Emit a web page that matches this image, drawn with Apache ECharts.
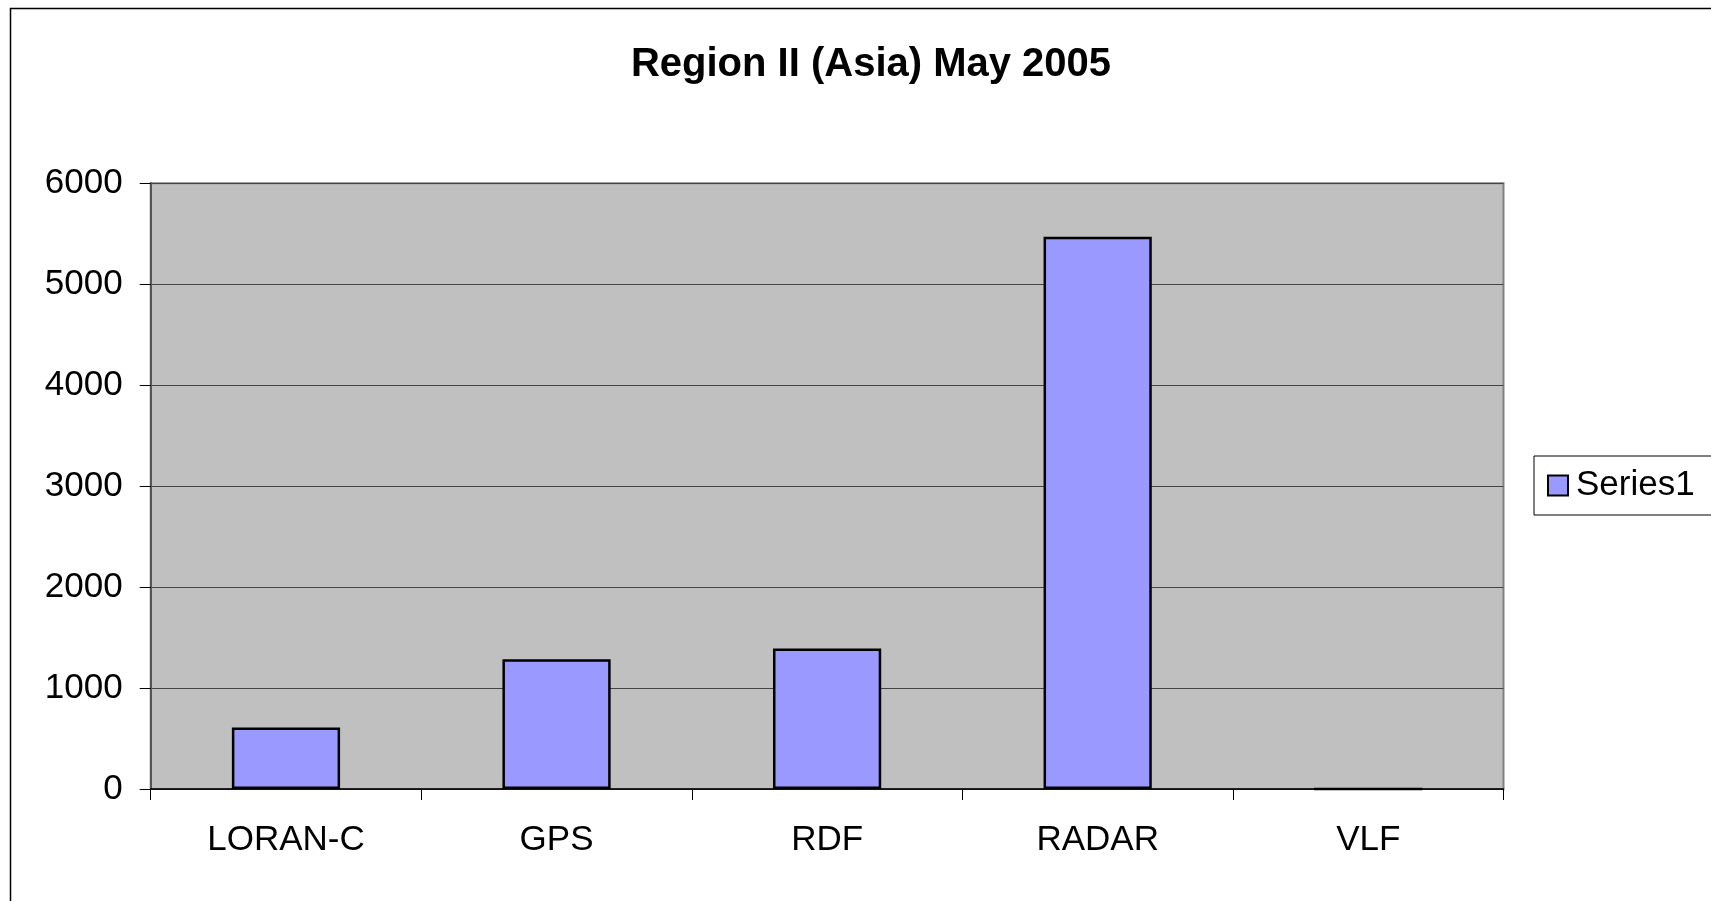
<!DOCTYPE html>
<html>
<head>
<meta charset="utf-8">
<script src="https://cdn.jsdelivr.net/npm/echarts@6/dist/echarts.min.js"></script>
<style>
html,body{margin:0;padding:0;background:#fff;}
#chart{width:1711px;height:901px;}
</style>
</head>
<body>
<div id="chart"></div>
<script>
const titleText = 'Region II (Asia) May 2005';
const categories = ['LORAN-C', 'GPS', 'RDF', 'RADAR', 'VLF'];
const seriesName = 'Series1';
const values = [610, 1285, 1393, 5470, 0];
const yTicks = [0, 1000, 2000, 3000, 4000, 5000, 6000];

const FONT = '"Liberation Sans", Arial, sans-serif';
const chart = echarts.init(document.getElementById('chart'));
chart.setOption({
  animation: false,
  backgroundColor: '#ffffff',
  graphic: [{
    type: 'rect',
    shape: { x: 10.5, y: 8.5, width: 1800, height: 1000 },
    style: { fill: 'none', stroke: '#000', lineWidth: 1.5 },
    silent: true
  }],
  title: {
    text: titleText,
    left: 866,
    textAlign: 'center',
    top: 40,
    textStyle: { fontFamily: FONT, fontWeight: 'bold', fontSize: 40, color: '#000' }
  },
  legend: {
    left: 1534,
    top: 456,
    orient: 'vertical',
    icon: 'rect',
    itemWidth: 20,
    itemHeight: 20,
    itemGap: 0,
    padding: [12, 40, 12, 13],
    borderColor: '#000',
    borderWidth: 1,
    backgroundColor: '#fff',
    textStyle: { fontFamily: FONT, fontSize: 35, color: '#000', padding: [0, 0, 0, 3] },
    itemStyle: { borderColor: '#000', borderWidth: 2 },
    data: [seriesName]
  },
  grid: {
    left: 150.7,
    right: 207.5,
    top: 183.3,
    bottom: 112,
    show: true,
    backgroundColor: '#C0C0C0',
    borderColor: '#808080',
    borderWidth: 2
  },
  xAxis: {
    type: 'category',
    data: categories,
    axisLine: { lineStyle: { color: '#000', width: 1.5 } },
    axisTick: { show: true, length: 11, lineStyle: { color: '#000', width: 1 } },
    axisLabel: { fontFamily: FONT, fontSize: 35, color: '#000', margin: 34 }
  },
  yAxis: {
    type: 'value',
    min: yTicks[0],
    max: yTicks[yTicks.length - 1],
    interval: yTicks[1] - yTicks[0],
    axisLine: { show: true, lineStyle: { color: '#555', width: 2 } },
    axisTick: { show: true, length: 11, lineStyle: { color: '#000', width: 1 } },
    axisLabel: { fontFamily: FONT, fontSize: 35, color: '#000', margin: 28, formatter: v => String(v) },
    splitLine: { show: true, lineStyle: { color: '#444', width: 1.2 } }
  },
  series: [{
    name: seriesName,
    type: 'bar',
    data: values,
    barCategoryGap: '60%',
    itemStyle: { color: '#9999FF', borderColor: '#000', borderWidth: 2.5 }
  }]
});
</script>
</body>
</html>
